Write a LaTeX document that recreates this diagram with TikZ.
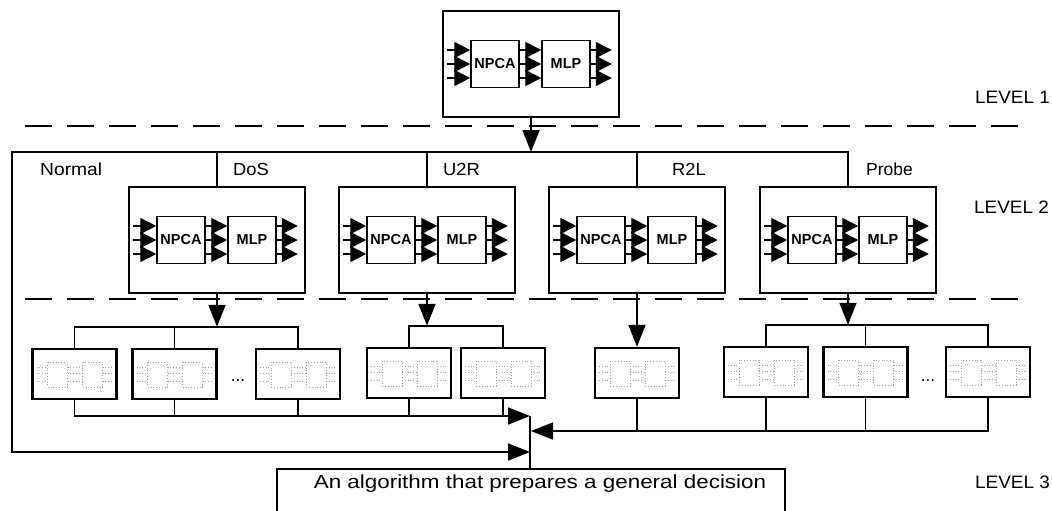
\documentclass[tikz,border=0pt]{standalone}
\usepackage{fontspec}
\setmainfont{Liberation Sans}
\usepackage{graphicx}
\usetikzlibrary{arrows.meta,calc}
\newcommand{\wx}[2]{\scalebox{#1}[1]{#2}}
\newcommand{\clsunit}[3]{%
  \node[l2box] (#1) at (#2,#3) {};
  \node[npbox] (#1n) at ($(#1.center)+(-36,0)$) {NPCA};
  \node[npbox] (#1m) at ($(#1.center)+(35,0)$) {MLP};
  \foreach \d in {-14,0,14} {
    \draw[tri] ([xshift=-23pt,yshift=\d pt]#1n.west) -- ([yshift=\d pt]#1n.west);
    \draw[tri] ([yshift=\d pt]#1n.east) -- ([yshift=\d pt]#1m.west);
    \draw[tri] ([yshift=\d pt]#1m.east) -- ([xshift=21pt,yshift=\d pt]#1m.east);
  }}
\newcommand{\miniunit}[3]{%
  \node[l3box] (#1) at (#2,#3) {};
  \begin{scope}[shift={(#2,#3)}]
    \draw[faint] (-27,-12) rectangle (-7,13);
    \draw[faint] (8,-12) rectangle (28,13);
    \foreach \yy in {-7,-1,7} {
      \draw[faint] (-38,\yy) -- (-27,\yy);
      \draw[faint] (-7,\yy) -- (8,\yy);
      \draw[faint] (28,\yy) -- (38,\yy);
    }
  \end{scope}}
\begin{document}
\begin{tikzpicture}[x=1pt,y=-1pt,
  l2box/.style={draw, line width=1.8pt, minimum width=176pt, minimum height=106pt, inner sep=0pt},
  npbox/.style={draw, line width=1.5pt, minimum width=48pt, minimum height=47pt, inner sep=0pt, font=\fontsize{14.5}{16}\selectfont\bfseries},
  l3box/.style={draw, line width=2.4pt, minimum width=84pt, minimum height=50pt, inner sep=0pt},
  faint/.style={draw=black!35, dotted, line width=0.8pt},
  tri/.style={line width=1.4pt, -{Triangle[length=16pt,width=16pt]}},
  bigarrow/.style={line width=1.8pt, -{Triangle[length=22pt,width=17pt]}},
  conn/.style={line width=1.8pt},
  dashline/.style={line width=2.8pt, dash pattern=on 27pt off 15pt},
  lab/.style={font=\fontsize{17.5}{20}\selectfont, inner sep=0pt, anchor=base west},
  lev/.style={font=\fontsize{18}{20}\selectfont, inner sep=0pt, anchor=west},
  dots/.style={font=\fontsize{17}{20}\selectfont, inner sep=0pt, anchor=base},
]
\useasboundingbox (0,0) rectangle (1052,511);
\fill[white] (0,0) rectangle (1052,511);
\clip (0,0) rectangle (1052,511);

% dashed separators
\draw[dashline] (25,126) -- (1032,126);
\draw[dashline] (25,299) -- (1032,299);

% level 1 and level 2 classifiers
\clsunit{top}{531}{64}
\clsunit{dos}{217}{240}
\clsunit{u2r}{427}{240}
\clsunit{r2l}{637}{240}
\clsunit{probe}{848}{240}

% labels
\node[lab] (lnormal) at (40,175) {\wx{1.1}{Normal}};
\node[lab] (ldos) at (233,175) {\wx{1.05}{DoS}};
\node[lab] (lu2r) at (443,175) {\wx{1.05}{U2R}};
\node[lab] (lr2l) at (672,175) {\wx{1.05}{R2L}};
\node[lab] (lprobe) at (866,175) {\wx{1.0}{Probe}};
\node[lev] (lev1) at (975,97) {\wx{1.05}{LEVEL 1}};
\node[lev] (lev2) at (974,207) {\wx{1.05}{LEVEL 2}};
\node[lev] (lev3) at (975,482) {\wx{1.05}{LEVEL 3}};

% level 2 bus
\coordinate (tl) at (12,152);
\coordinate (bl) at (12,452);
\coordinate (j3) at (530,452);
\coordinate (j1) at (530,416);
\coordinate (j2) at (531,431);
\draw[bigarrow] (top.south) -- (top.south |- tl);
\draw[bigarrow] (probe.north) |- (tl) -- (bl) -- (j3);
\foreach \n in {dos,u2r,r2l} \draw[conn] (\n.north) -- (\n.north |- tl);

% level 3 units
\miniunit{d1}{74.5}{374}
\miniunit{d2}{174.5}{374}
\miniunit{d3}{298}{374}
\miniunit{u1}{409}{373}
\miniunit{u2}{503}{373}
\miniunit{r1}{637}{373}
\miniunit{p1}{766}{372}
\miniunit{p2}{865.5}{372}
\miniunit{p3}{988}{372}
\node[dots] (dots1) at (238,381) {...};
\node[dots] (dots2) at (928,381) {...};

% top buses
\draw[conn] (d1.north) -- ++(0,-21) coordinate (dbus) -| (d3.north);
\draw[conn] (d2.north) -- (d2.north |- dbus);
\draw[bigarrow] (dos.south) -- (dos.south |- dbus);
\draw[conn] (u1.north) -- ++(0,-21) coordinate (ubus) -| (u2.north);
\draw[bigarrow] (u2r.south) -- (u2r.south |- ubus);
\draw[bigarrow] (r2l.south) -- (r1.north);
\draw[conn] (p1.north) -- ++(0,-21) coordinate (pbus) -| (p3.north);
\draw[conn] (p2.north) -- (p2.north |- pbus);
\draw[bigarrow] (probe.south) -- (probe.south |- pbus);

% bottom buses
\draw[bigarrow] (d1.south) |- (j1);
\foreach \n in {d2,d3,u1,u2} \draw[conn] (\n.south) -- (\n.south |- j1);
\draw[bigarrow] (p3.south) |- (j2);
\foreach \n in {p1,p2,r1} \draw[conn] (\n.south) -- (\n.south |- j2);

% decision
\node[draw, line width=1.6pt, anchor=north, minimum width=508pt, inner xsep=0pt, inner ysep=0pt,
      text height=19.5pt, text depth=30pt, font=\fontsize{19}{22}\selectfont] (dec) at (531,468)
      {\hspace*{18pt}\wx{1.18}{An algorithm that prepares a general decision}};
\draw[conn] (j1) -- (j1 |- dec.north);
\end{tikzpicture}
\end{document}
